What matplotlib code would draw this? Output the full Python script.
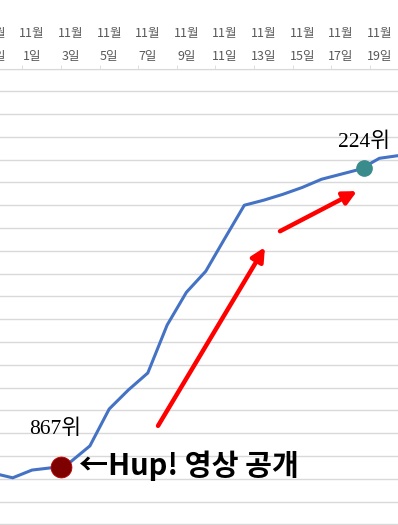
import matplotlib.pyplot as plt
import numpy as np

# chart data (rank per day, 11/1 = day 1)
days = np.arange(-1, 21)
ranks = [888, 898, 881, 876, 863, 828, 747, 705, 668, 563, 491, 445,
         372, 300, 289, 276, 261, 243, 232, 221, 197, 191]
label_days = list(range(-1, 22, 2))
tick_labels = ['10월\n30일'] + ['11월\n%d일' % d for d in label_days[1:]]

# highlighted points (day, rank)
hup_point = (2.5, 875)
top_point = (18.2, 219)
hup_label = '867위'
top_label = '224위'
note_text = '←Hup! 영상 공개'

# red arrows (tail, head) in (day, rank)
arrows = [((7.53, 784), (13.07, 392)),
          ((13.85, 357), (17.84, 269))]

W, H = 398, 525
fig = plt.figure(figsize=(W / 100, H / 100), dpi=100)

# axes is wider / taller than the picture: the original is a crop
px_day = 19.3
px_rank = 22.79 / 50
x_left = 32 - 3 * px_day
x_right = 32 + 21 * px_day
y_top = 68.5
y_bottom = y_top + 1100 * px_rank
ax = fig.add_axes([x_left / W, 1 - y_bottom / H,
                   (x_right - x_left) / W, (y_bottom - y_top) / H])
ax.set_xlim(-2, 22)
ax.set_ylim(1100, 0)

ax.plot(days, ranks, color='#4472C4', lw=2.2, zorder=3, solid_capstyle='round')

ax.plot(*hup_point, 'o', ms=15, color='#7F0000', mec='#C00000', mew=0.6, zorder=4)
ax.plot(*top_point, 'o', ms=11, color='#3A8C8C', zorder=4)

for tail, head in arrows:
    ax.annotate('', xy=head, xytext=tail,
                arrowprops=dict(arrowstyle='-|>,head_length=0.8,head_width=0.4',
                                color='red', lw=3.2, shrinkA=0, shrinkB=0))

serif = ['Liberation Serif', 'Noto Sans CJK KR']
ax.text(2.2, 791, hup_label, ha='center', va='center', fontsize=15.5,
        family=serif, color='black')
ax.text(18.2, 162, top_label, ha='center', va='center', fontsize=15.5,
        family=serif, color='black')
ax.text(3.45, 872, note_text, ha='left', va='center', fontsize=21,
        weight='heavy', family=['Noto Sans CJK KR', 'DejaVu Sans'], color='black')

# gridlines, no y labels
ax.set_yticks(np.arange(0, 1101, 50))
ax.tick_params(axis='y', length=0, labelleft=False)
ax.grid(axis='y', color='#D9D9D9', lw=1)
ax.set_axisbelow(True)

# category axis on top
ax.xaxis.tick_top()
ax.set_xticks(label_days)
ax.set_xticklabels(tick_labels, fontsize=9, color='#595959',
                   family=['Noto Sans CJK KR', 'DejaVu Sans'], linespacing=2.0)
ax.set_xticks(np.arange(-1.5, 22, 2), minor=True)
ax.tick_params(axis='x', which='major', length=0, pad=4)
ax.tick_params(axis='x', which='minor', length=3, color='#D9D9D9', top=True, bottom=False)

for s in ['left', 'right', 'bottom']:
    ax.spines[s].set_visible(False)
ax.spines['top'].set_color('#D9D9D9')

fig.savefig('out.png', dpi=100)
